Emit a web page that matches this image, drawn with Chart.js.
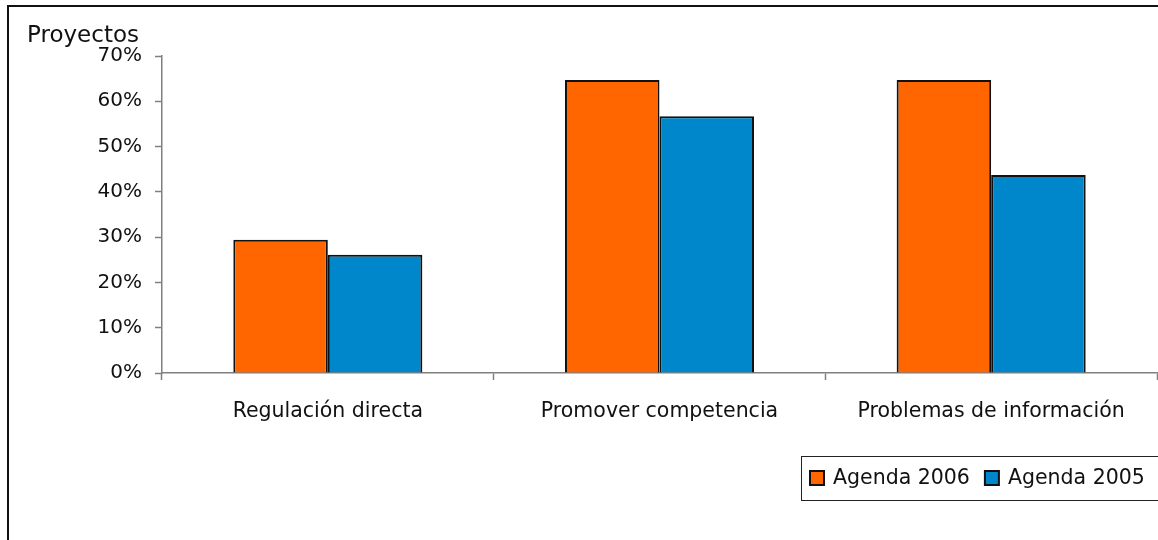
<!DOCTYPE html>
<html>
<head>
<meta charset="utf-8">
<script src="https://cdn.jsdelivr.net/npm/chart.js@4"></script>
<style>
  html, body { margin: 0; padding: 0; background: #fff; }
  #wrap { width: 1158px; height: 540px; position: relative; }
</style>
</head>
<body>
<div id="wrap"><canvas id="projChart" width="1158" height="540"></canvas></div>
<script>
// datos del gráfico
const categories = ["Regulación directa", "Promover competencia", "Problemas de información"];
const agenda2006 = [29.4, 64.7, 64.7];
const agenda2005 = [26.1, 56.7, 43.7];
const yTickLabels = ["0%", "10%", "20%", "30%", "40%", "50%", "60%", "70%"];
const seriesNames = ["Agenda 2006", "Agenda 2005"];

const FONT = "'DejaVu Sans', Tahoma, sans-serif";
const TEXT_COLOR = "#111";

// marco exterior, título del eje y leyenda enmarcada
const framePlugin = {
  id: "frame",
  afterDraw(chart) {
    const c = chart.ctx;
    c.save();
    // marco (solo izquierda y arriba visibles)
    c.strokeStyle = "#111";
    c.lineWidth = 2;
    c.beginPath();
    c.moveTo(8, 545);
    c.lineTo(8, 6);
    c.lineTo(1165, 6);
    c.stroke();

    // título "Proyectos"
    c.fillStyle = TEXT_COLOR;
    c.font = "23px " + FONT;
    c.textAlign = "left";
    c.textBaseline = "alphabetic";
    c.fillText("Proyectos", 27, 42);

    // leyenda
    c.lineWidth = 1;
    c.strokeStyle = "#222";
    c.strokeRect(801.5, 456.5, 400, 44);
    const ds = chart.data.datasets;
    let x = 810;
    c.font = "20.5px " + FONT;
    ds.forEach(d => {
      c.fillStyle = d.backgroundColor;
      c.fillRect(x, 471, 14, 14);
      c.lineWidth = 2;
      c.strokeStyle = "#111";
      c.strokeRect(x, 471, 14, 14);
      c.fillStyle = TEXT_COLOR;
      c.textBaseline = "middle";
      c.fillText(d.label, x + 23, 479);
      x += 23 + c.measureText(d.label).width + 15;
    });
    c.restore();
  }
};

const ctx = document.getElementById("projChart").getContext("2d");
new Chart(ctx, {
  type: "bar",
  data: {
    labels: categories,
    datasets: [
      {
        label: seriesNames[0],
        data: agenda2006,
        backgroundColor: "#FF6600",
        borderColor: "#111",
        borderWidth: 2
      },
      {
        label: seriesNames[1],
        data: agenda2005,
        backgroundColor: "#0087CB",
        borderColor: "#111",
        borderWidth: 2
      }
    ]
  },
  options: {
    responsive: false,
    animation: false,
    devicePixelRatio: 1,
    layout: { padding: { top: 56, right: 1, left: 0, bottom: 0 } },
    datasets: {
      bar: { categoryPercentage: 0.57, barPercentage: 1.0 }
    },
    plugins: {
      legend: { display: false },
      tooltip: { enabled: false }
    },
    scales: {
      x: {
        afterFit: s => { s.height = 540 - 56 - 317; },
        grid: {
          offset: true,
          drawOnChartArea: false,
          tickLength: 7,
          tickColor: "#808080",
          tickWidth: 1.5
        },
        border: { color: "#808080", width: 1.5 },
        ticks: {
          color: TEXT_COLOR,
          font: { family: FONT, size: 20.5 },
          padding: 19,
          maxRotation: 0
        }
      },
      y: {
        min: 0,
        max: 70,
        afterFit: s => { s.width = 162; },
        grid: {
          drawOnChartArea: false,
          tickLength: 7,
          tickColor: "#808080",
          tickWidth: 1.5
        },
        border: { color: "#808080", width: 1.5 },
        ticks: {
          stepSize: 10,
          color: TEXT_COLOR,
          font: { family: FONT, size: 20 },
          padding: 13,
          callback: (v, i) => yTickLabels[i]
        }
      }
    }
  },
  plugins: [framePlugin]
});
</script>
</body>
</html>
